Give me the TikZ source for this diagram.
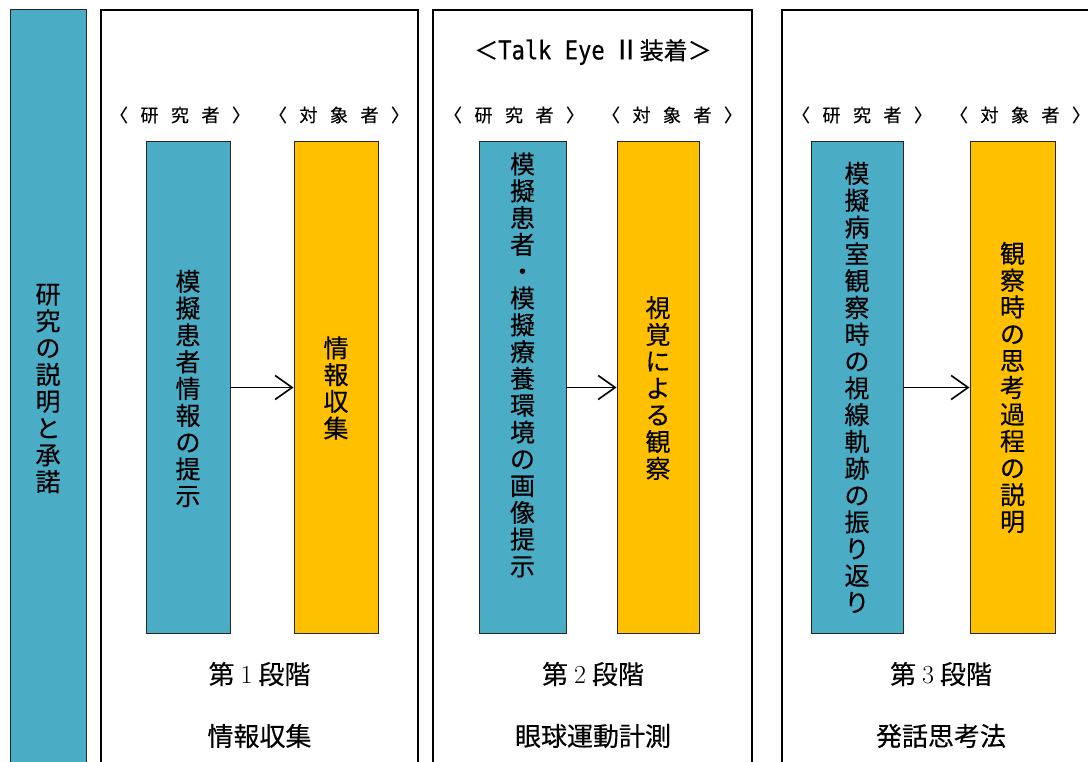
\documentclass[tikz,border=0pt]{standalone}
\usepackage{fontspec}
\newfontfamily\jp[FakeBold=0.35]{Noto Sans CJK JP}
\newfontfamily\monofam[FakeStretch=0.85,FakeBold=0.35]{DejaVu Sans Mono}
\usetikzlibrary{arrows.meta}
\definecolor{cblue}{HTML}{4BACC6}
\definecolor{corange}{HTML}{FFC000}
\tikzset{
  panel/.style={draw=black, line width=1.3pt, fill=white},
  colbox/.style={draw=black!85, line width=1pt, inner sep=0pt, minimum height=491pt, align=center,
     font={\jp\fontsize{25}{26.8}\selectfont}},
  bluebox/.style={colbox, fill=cblue},
  orangebox/.style={colbox, fill=corange},
  vtext/.style={inner sep=0pt, align=center, font={\jp\fontsize{25}{26.8}\selectfont}},
  rolelabel/.style={inner sep=0pt, font={\jp\fontsize{18}{20}\selectfont}},
  steplabel/.style={inner sep=0pt, font={\jp\fontsize{26}{28}\selectfont}},
  toplabel/.style={inner sep=0pt, font={\jp\fontsize{24}{26}\selectfont}},
  arr/.style={line width=1.6pt, -{Straight Barb[length=17pt,width=24pt]}}
}
\newcommand\gp{\hspace{12.5pt}}
\begin{document}
\begin{tikzpicture}[x=1pt,y=-1pt]
\useasboundingbox (0,0) rectangle (1088,762);
\clip (0,0) rectangle (1088,762);
\fill[white] (0,0) rectangle (1088,762);

% left bar
\draw[draw=black!85, line width=1pt, fill=cblue] (10,10) rectangle (86,790);
\node[vtext] (lefttext) at (48,388.5) {研\\究\\の\\説\\明\\と\\承\\諾};

% panels
\draw[panel] (101,10) rectangle (418,790);
\draw[panel] (433,10) rectangle (752,790);
\draw[panel] (782,10) rectangle (1102,790);

% top label of panel 2
\node[toplabel] (talk) at (593,52) {＜{\monofam\fontsize{26}{26}\selectfont Talk Eye}\hspace{8pt}{\fontsize{27}{27}\selectfont Ⅱ}装着＞};

% role labels
\node[rolelabel] (r1) at (180,115) {〈\gp 研\gp 究\gp 者\gp 〉};
\node[rolelabel] (t1) at (339,115) {〈\gp 対\gp 象\gp 者\gp 〉};
\node[rolelabel] (r2) at (514,115) {〈\gp 研\gp 究\gp 者\gp 〉};
\node[rolelabel] (t2) at (672,115) {〈\gp 対\gp 象\gp 者\gp 〉};
\node[rolelabel] (r3) at (862,115) {〈\gp 研\gp 究\gp 者\gp 〉};
\node[rolelabel] (t3) at (1020,115) {〈\gp 対\gp 象\gp 者\gp 〉};

% stage 1
\node[bluebox, minimum width=84pt] (b1) at (188,387.5) {};
\node[vtext] (b1t) at (188,388.5) {模\\擬\\患\\者\\情\\報\\の\\提\\示};
\node[orangebox, minimum width=84pt] (o1) at (336,387.5) {};
\node[vtext] (o1t) at (336,388) {情\\報\\収\\集};
\draw[arr] (b1.east) -- (o1.west);

% stage 2
\node[bluebox, minimum width=87pt] (b2) at (522.5,387.5) {};
\node[vtext] (b2t) at (522.5,365) {模\\擬\\患\\者\\・\\模\\擬\\療\\養\\環\\境\\の\\画\\像\\提\\示};
\node[orangebox, minimum width=82pt] (o2) at (658,387.5) {};
\node[vtext] (o2t) at (658,388) {視\\覚\\に\\よ\\る\\観\\察};
\draw[arr] (b2.east) -- (o2.west);

% stage 3
\node[bluebox, minimum width=92pt] (b3) at (857,387.5) {};
\node[vtext] (b3t) at (857,387.5) {模\\擬\\病\\室\\観\\察\\時\\の\\視\\線\\軌\\跡\\の\\振\\り\\返\\り};
\node[orangebox, minimum width=85pt] (o3) at (1012.5,387.5) {};
\node[vtext] (o3t) at (1012.5,387.5) {観\\察\\時\\の\\思\\考\\過\\程\\の\\説\\明};
\draw[arr] (b3.east) -- (o3.west);

% bottom labels
\node[steplabel] (s1) at (259.5,674) {第\hspace{6pt}{\rmfamily 1}\hspace{6pt}段階};
\node[steplabel] (n1) at (259.5,736) {情報収集};
\node[steplabel] (s2) at (593,674) {第\hspace{6pt}{\rmfamily 2}\hspace{6pt}段階};
\node[steplabel] (n2) at (593,736) {眼球運動計測};
\node[steplabel] (s3) at (941,674) {第\hspace{6pt}{\rmfamily 3}\hspace{6pt}段階};
\node[steplabel] (n3) at (941,736) {発話思考法};
\end{tikzpicture}
\end{document}
